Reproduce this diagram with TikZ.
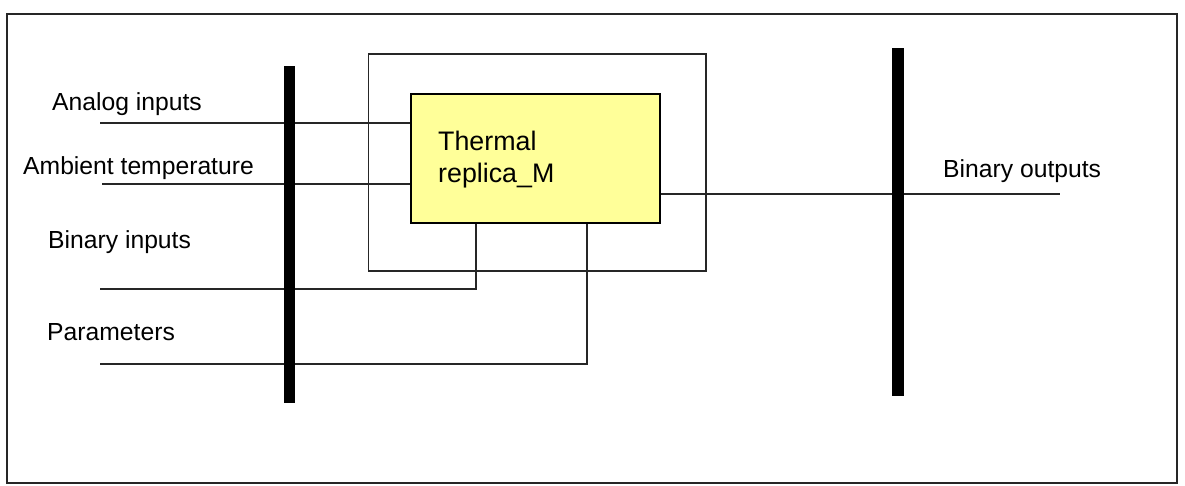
\documentclass[tikz,border=0pt]{standalone}
\usepackage{fontspec}
\setmainfont{Liberation Sans}
\definecolor{boxyellow}{HTML}{FFFF99}
\begin{document}
\begin{tikzpicture}[x=1pt,y=-1pt,
  wire/.style={draw=black!85, line width=1.8pt},
  frame/.style={draw=black!85, line width=1.9pt},
  bus/.style={fill=black, draw=none, inner sep=0pt, minimum width=11.5pt},
  lbl/.style={anchor=west, inner sep=0pt, font=\fontsize{24.7}{29}\selectfont},
  fblock/.style={draw=black, line width=2.6pt, fill=boxyellow, inner sep=0pt, minimum width=249pt, minimum height=129pt}
]
\useasboundingbox (0,0) rectangle (1185,485);
% outer frame
\draw[frame] (7,14) rectangle (1177,483);
% inner frame
\draw[frame] (368.5,54) rectangle (706,271);
% buses
\node[bus, minimum height=337pt] (lbus) at (289.5,234.5) {};
\node[bus, minimum height=348pt] (rbus) at (898,222) {};
% function block
\node[fblock] (tr) at (535.5,158.5) {};
\node[lbl, align=left, font=\fontsize{26.8}{32}\selectfont] (trtext) at (438,160) {Thermal\\replica\_M};
% labels
\node[lbl] (lai) at (52,104) {Analog inputs};
\node[lbl] (lat) at (23,168) {Ambient temperature};
\node[lbl] (lbi) at (48,242) {Binary inputs};
\node[lbl] (lpa) at (47,332) {Parameters};
\node[lbl] (lbo) at (943,171) {Binary outputs};
% free ends
\coordinate (ai) at (100,123);
\coordinate (at) at (102,184);
\coordinate (bi) at (100,289);
\coordinate (pa) at (100,364);
\coordinate (bo) at (1060,194);
% wires
\draw[wire] (ai) -- (ai -| tr.west);
\draw[wire] (at) -- (at -| tr.west);
\draw[wire] (bi) -| ([xshift=66pt]tr.south west);
\draw[wire] (pa) -| ([xshift=177pt]tr.south west);
\draw[wire] (bo -| tr.east) -- (bo);
% redraw buses on top
\node[bus, minimum height=337pt] at (lbus) {};
\node[bus, minimum height=348pt] at (rbus) {};
\end{tikzpicture}
\end{document}
